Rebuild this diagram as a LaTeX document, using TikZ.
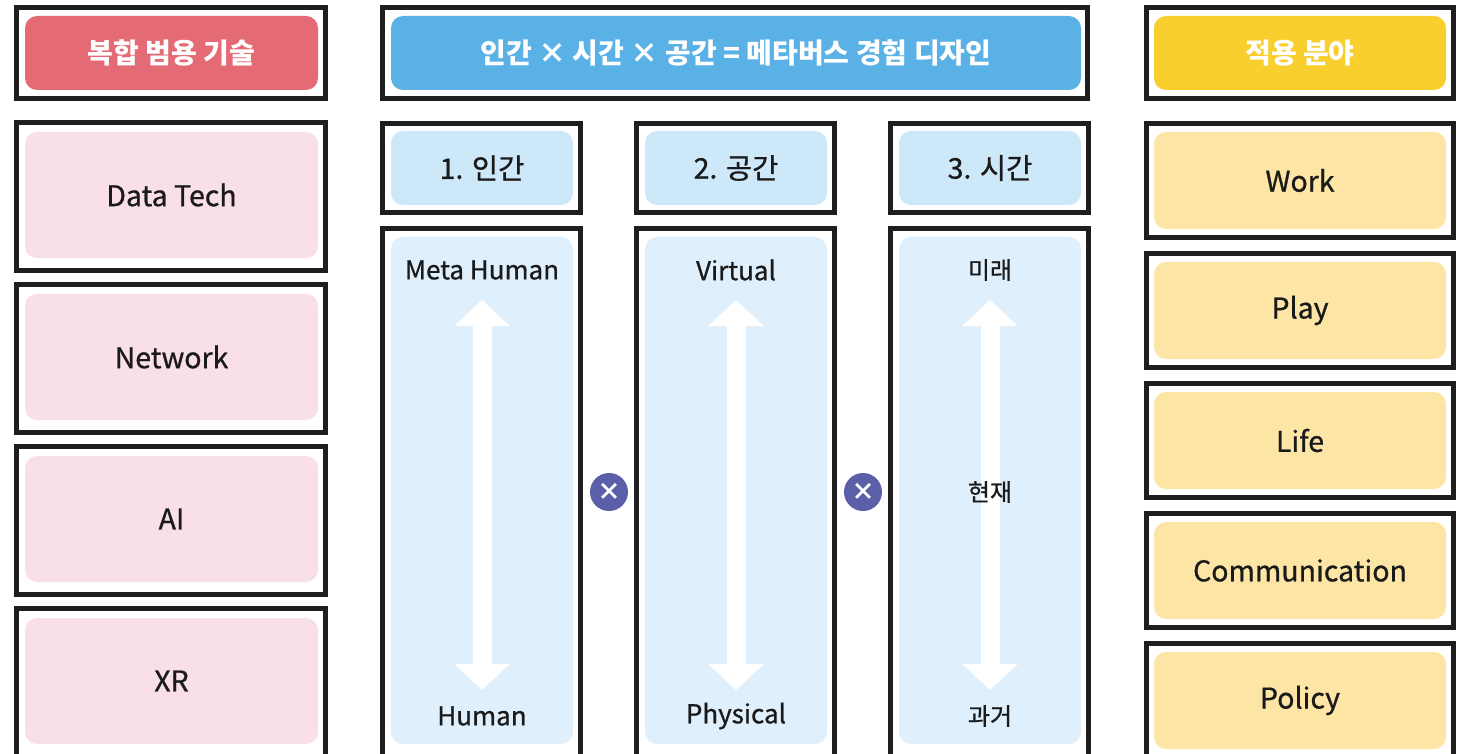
\documentclass[tikz,border=0pt]{standalone}
\usepackage{fontspec}
\setmainfont{Noto Sans CJK KR}
\newfontfamily\medfont[FakeBold=0.8]{Noto Sans CJK KR}
\usetikzlibrary{arrows.meta}
\definecolor{framec}{HTML}{1E1E1E}
\definecolor{pinkh}{HTML}{E46A75}
\definecolor{pinkl}{HTML}{F9E0E6}
\definecolor{blueh}{HTML}{5AB1E6}
\definecolor{bluel}{HTML}{CDE8F8}
\definecolor{bluebody}{HTML}{DFF0FC}
\definecolor{yellowh}{HTML}{F9CF2D}
\definecolor{yellowl}{HTML}{FDE5A5}
\definecolor{circc}{HTML}{5A5FA8}
\definecolor{textc}{HTML}{1A1A1A}
\begin{document}
\begin{tikzpicture}[x=1pt,y=-1pt,
  frame/.style={draw=framec, line width=5pt, fill=white, inner sep=0pt},
  inbox/.style={rounded corners=12pt, inner sep=0pt, text=textc, font=\medfont\fontsize{28.5}{32}\selectfont},
  headbox/.style={rounded corners=12pt, inner sep=0pt, text=white, font=\fontsize{28}{32}\selectfont\bfseries},
  lbl/.style={inner sep=0pt, text=textc, font=\medfont\fontsize{26}{29}\selectfont},
  klbl/.style={inner sep=0pt, text=textc, font=\medfont\fontsize{24}{27}\selectfont},
  twoway/.style={line width=19pt, white, {Triangle[width=54pt,length=26pt]}-{Triangle[width=54pt,length=26pt]}},
  times/.style={circle, fill=circc, minimum size=38pt, inner sep=0pt, text=white, font=\fontsize{24}{24}\selectfont\bfseries}
]
\useasboundingbox (0,0) rectangle (1468,754);
\clip (0,0) rectangle (1468,754);
\fill[white] (0,0) rectangle (1468,754);

% ---------- left column ----------
\node[frame, minimum width=309pt, minimum height=91pt] (lhf) at (171,53) {};
\node[headbox, fill=pinkh, minimum width=293pt, minimum height=74pt] (lh) at (171.5,53) {복합 범용 기술};
\foreach \n/\t [count=\i from 0] in {dt/Data Tech, nw/Network, ai/AI, xr/XR}{
  \node[frame, minimum width=309pt, minimum height=148pt] (\n f) at (171,196.5+162*\i) {};
  \node[inbox, fill=pinkl, minimum width=293pt, minimum height=126pt] (\n) at (171.5,195+162*\i) {\t};
}

% ---------- middle header ----------
\node[frame, minimum width=705pt, minimum height=91pt] (mhf) at (735,53) {};
\node[headbox, fill=blueh, minimum width=690pt, minimum height=74pt] (mh) at (736,53) {인간 × 시간 × 공간 = 메타버스 경험 디자인};

% ---------- three dimension columns ----------
\foreach \n/\t/\x in {c1/1. 인간/481.5, c2/2. 공간/735.5, c3/3. 시간/989.5}{
  \node[frame, minimum width=198pt, minimum height=89pt] (\n hf) at (\x,168) {};
  \node[inbox, fill=bluel, minimum width=182pt, minimum height=74pt] (\n h) at (\x+0.5,168) {\t};
  \node[frame, minimum width=198pt, minimum height=531pt] (\n bf) at (\x,494) {};
  \node[inbox, fill=bluebody, minimum width=182pt, minimum height=507pt] (\n b) at (\x+0.5,490.5) {};
}

\coordinate (a1t) at (482,300); \coordinate (a1b) at (482,690);
\coordinate (a2t) at (736,300); \coordinate (a2b) at (736,690);
\coordinate (a3t) at (990,300); \coordinate (a3b) at (990,690);
\draw[twoway] (a1t) -- (a1b);
\draw[twoway] (a2t) -- (a2b);
\draw[twoway] (a3t) -- (a3b);

\node[lbl] (mhum) at (482,270) {Meta Human};
\node[lbl] (hum) at (482,716) {Human};
\node[lbl] (virt) at (736,270) {Virtual};
\node[lbl] (phys) at (736,716) {Physical};
\node[klbl] (fut) at (990,270) {미래};
\node[klbl] (pres) at (990,492) {현재};
\node[klbl] (past) at (990,716) {과거};

\node[times] (x1) at (609,492) {×};
\node[times] (x2) at (863,492) {×};

% ---------- right column ----------
\node[frame, minimum width=307pt, minimum height=91pt] (rhf) at (1300,53) {};
\node[headbox, fill=yellowh, minimum width=292pt, minimum height=74pt] (rh) at (1300,53) {적용 분야};
\foreach \n/\t [count=\i from 0] in {wk/Work, pl/Play, lf/Life, cm/Communication, po/Policy}{
  \node[frame, minimum width=307pt, minimum height=114pt] (\n f) at (1300,180.5+130*\i) {};
  \node[inbox, fill=yellowl, minimum width=292pt, minimum height=97pt] (\n) at (1300,180.5+130*\i) {\t};
}
\end{tikzpicture}
\end{document}
